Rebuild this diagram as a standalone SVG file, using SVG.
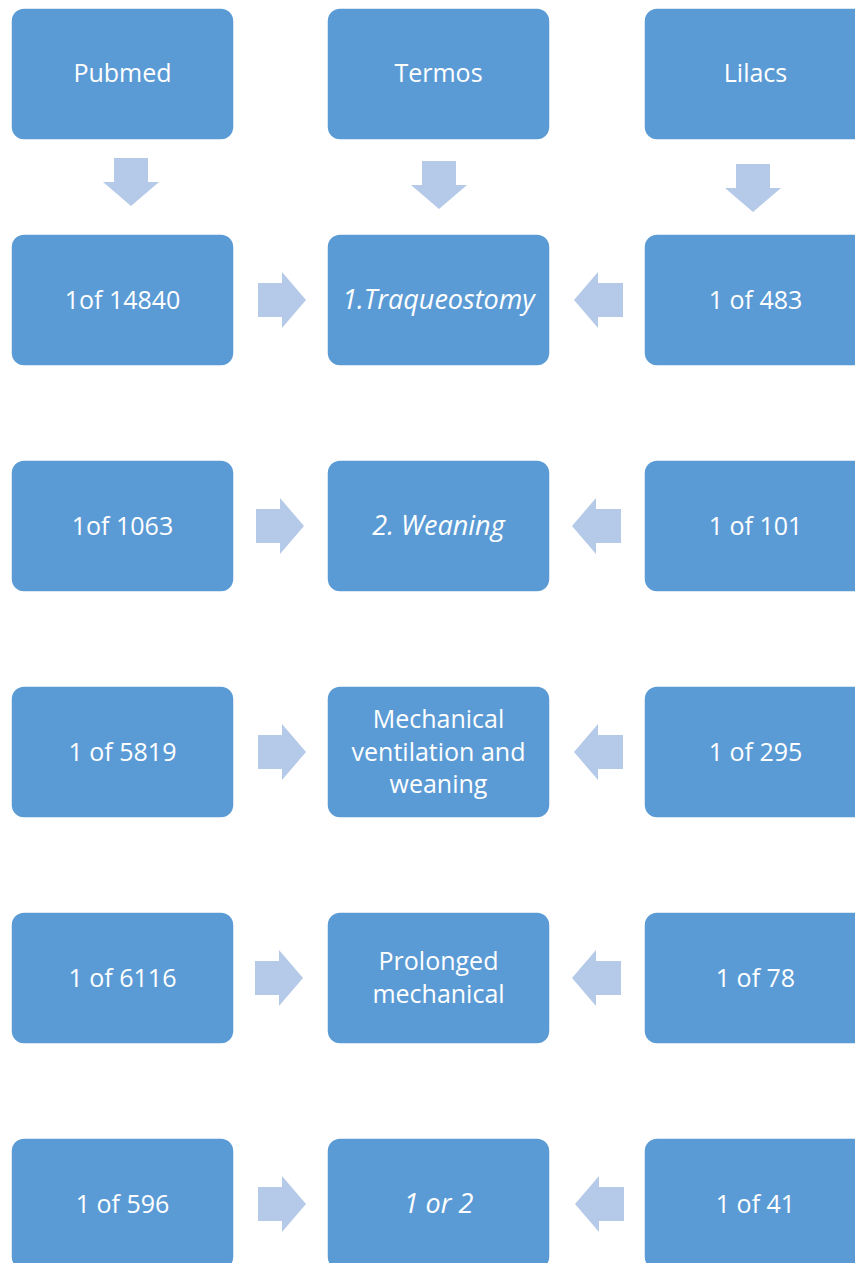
<svg xmlns="http://www.w3.org/2000/svg" width="855" height="1263" viewBox="0 0 855 1263">
<style>
.box{fill:#5B9BD5;stroke:#FFFFFF;stroke-width:1.5}
.t{font-family:"Open Sans","Noto Sans",sans-serif;font-size:25px;fill:#FFFFFF;text-anchor:middle}
.i{font-style:italic;font-size:27px}
.ar{fill:#B5CAE8}
</style>
<rect width="855" height="1263" fill="#FFFFFF"/>
<defs>
<path id="down" d="M-17,0 H17 V24 H28 L0,48 L-28,24 H-17 Z"/>
<path id="right" d="M0,-17 H24 V-28 L48,0 L24,28 V17 H0 Z"/>
<path id="left" d="M0,0 L24,-28 V-17 H49 V17 H24 V28 Z"/>
</defs>
<g id="connectors">
<use href="#down" class="ar" x="131" y="158"/>
<use href="#down" class="ar" x="439" y="161"/>
<use href="#down" class="ar" x="753" y="164"/>
<use href="#right" class="ar" x="258" y="300"/>
<use href="#left" class="ar" x="574" y="300"/>
<use href="#right" class="ar" x="256" y="526"/>
<use href="#left" class="ar" x="572" y="526"/>
<use href="#right" class="ar" x="258" y="752"/>
<use href="#left" class="ar" x="574" y="752"/>
<use href="#right" class="ar" x="255" y="978"/>
<use href="#left" class="ar" x="572" y="978"/>
<use href="#right" class="ar" x="258" y="1204"/>
<use href="#left" class="ar" x="575" y="1204"/>
</g>
<g id="n-pubmed"><rect class="box" x="11" y="8" width="223" height="132" rx="13"/><text class="t" x="122.5" y="82">Pubmed</text></g>
<g id="n-termos"><rect class="box" x="327" y="8" width="223" height="132" rx="13"/><text class="t" x="438.5" y="82">Termos</text></g>
<g id="n-lilacs"><rect class="box" x="644" y="8" width="223" height="132" rx="13"/><text class="t" x="755.5" y="82">Lilacs</text></g>

<g id="n-p1"><rect class="box" x="11" y="234" width="223" height="132" rx="13"/><text class="t" x="122.5" y="309">1of 14840</text></g>
<g id="n-m1"><rect class="box" x="327" y="234" width="223" height="132" rx="13"/><text class="t i" x="438.5" y="309">1.Traqueostomy</text></g>
<g id="n-l1"><rect class="box" x="644" y="234" width="223" height="132" rx="13"/><text class="t" x="755.5" y="309">1 of 483</text></g>

<g id="n-p2"><rect class="box" x="11" y="460" width="223" height="132" rx="13"/><text class="t" x="122.5" y="535">1of 1063</text></g>
<g id="n-m2"><rect class="box" x="327" y="460" width="223" height="132" rx="13"/><text class="t i" x="438.5" y="535">2. Weaning</text></g>
<g id="n-l2"><rect class="box" x="644" y="460" width="223" height="132" rx="13"/><text class="t" x="755.5" y="535">1 of 101</text></g>

<g id="n-p3"><rect class="box" x="11" y="686" width="223" height="132" rx="13"/><text class="t" x="122.5" y="761">1 of 5819</text></g>
<g id="n-m3"><rect class="box" x="327" y="686" width="223" height="132" rx="13"/><text class="t" x="438.5" y="728">Mechanical</text><text class="t" x="438.5" y="760.5">ventilation and</text><text class="t" x="438.5" y="793">weaning</text></g>
<g id="n-l3"><rect class="box" x="644" y="686" width="223" height="132" rx="13"/><text class="t" x="755.5" y="761">1 of 295</text></g>

<g id="n-p4"><rect class="box" x="11" y="912" width="223" height="132" rx="13"/><text class="t" x="122.5" y="987">1 of 6116</text></g>
<g id="n-m4"><rect class="box" x="327" y="912" width="223" height="132" rx="13"/><text class="t" x="438.5" y="970">Prolonged</text><text class="t" x="438.5" y="1002.5">mechanical</text></g>
<g id="n-l4"><rect class="box" x="644" y="912" width="223" height="132" rx="13"/><text class="t" x="755.5" y="987">1 of 78</text></g>

<g id="n-p5"><rect class="box" x="11" y="1138" width="223" height="132" rx="13"/><text class="t" x="122.5" y="1213">1 of 596</text></g>
<g id="n-m5"><rect class="box" x="327" y="1138" width="223" height="132" rx="13"/><text class="t i" x="438.5" y="1213">1 or 2</text></g>
<g id="n-l5"><rect class="box" x="644" y="1138" width="223" height="132" rx="13"/><text class="t" x="755.5" y="1213">1 of 41</text></g>
</svg>
